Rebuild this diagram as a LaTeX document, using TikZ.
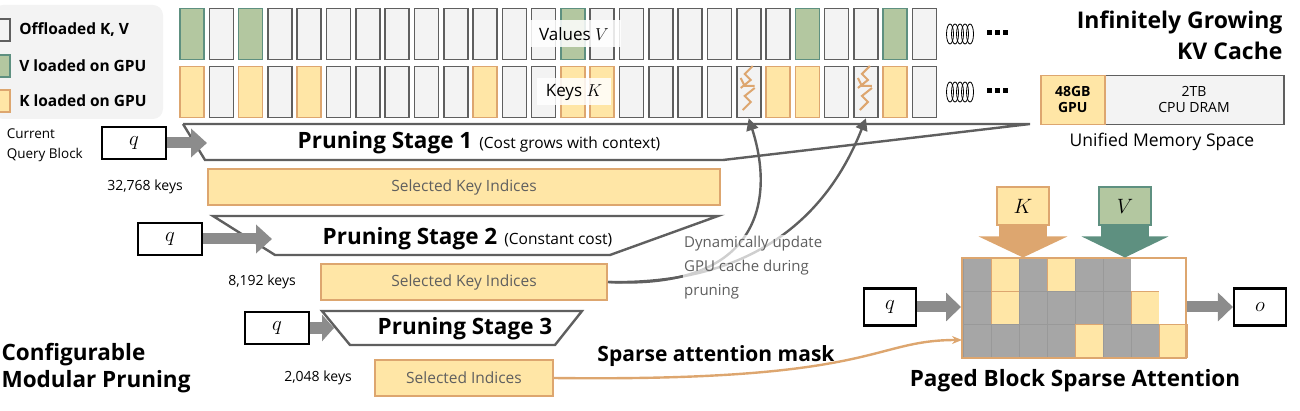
\documentclass[tikz,border=0pt]{standalone}
\usepackage{fontspec}
\setmainfont{Open Sans}
\usetikzlibrary{arrows.meta,positioning}

\definecolor{kfill}{HTML}{FFE6A6}
\definecolor{kdraw}{HTML}{DDA66F}
\definecolor{vfill}{HTML}{B3C7A0}
\definecolor{vdraw}{HTML}{5E9080}
\definecolor{cfill}{HTML}{F3F3F3}
\definecolor{cdraw}{HTML}{5F5F5F}
\definecolor{mgray}{HTML}{A6A6A6}

\tikzset{
  cell/.style={draw=cdraw,fill=cfill,line width=1.6pt,minimum width=24pt,minimum height=51pt,inner sep=0pt},
  kcell/.style={cell,draw=kdraw,fill=kfill},
  vcell/.style={cell,draw=vdraw,fill=vfill},
  qbox/.style={draw=black,line width=2.2pt,fill=white,minimum width=64pt,minimum height=32pt,font=\fontsize{22}{24}\selectfont},
  sel/.style={draw=kdraw,fill=kfill,line width=2pt,font=\fontsize{15.5}{17}\selectfont,text=cdraw},
  stage/.style={draw=cdraw,line width=2.4pt,fill=white,line join=miter},
  fat/.style={line width=11pt,draw=gray!90,-{Triangle[length=16pt,width=28pt]}},
  keys/.style={font=\fontsize{14}{16}\selectfont},
  head/.style={font=\bfseries\fontsize{22.5}{26}\selectfont},
  note/.style={font=\fontsize{15.5}{17}\selectfont,yshift=-1pt},
  legtext/.style={font=\bfseries\fontsize{15.5}{17}\selectfont},
  mcell/.style={draw=gray!80,fill=mgray,line width=1pt,minimum width=28pt,minimum height=33pt,inner sep=0pt},
}

\begin{document}
\begin{tikzpicture}[x=1pt,y=-1pt]
  \useasboundingbox (0,0) rectangle (1300,411);

  % legend
  \node[fill=cfill,rounded corners=10pt,minimum width=170pt,minimum height=114pt] (legend) at (78,62) {};
  \node[cell,minimum width=12pt,minimum height=22pt] (l1) at (4,30) {};
  \node[vcell,minimum width=12pt,minimum height=22pt] (l2) at (4,66) {};
  \node[kcell,minimum width=12pt,minimum height=22pt] (l3) at (4,101) {};
  \node[right=5pt of l1,legtext] {Offloaded K, V};
  \node[right=5pt of l2,legtext] {V loaded on GPU};
  \node[right=5pt of l3,legtext] {K loaded on GPU};

  % KV cache rows
  \foreach \i in {0,...,25} {
    \node[cell] (v\i) at (192+\i*29.3,34) {};
    \node[cell] (k\i) at (192+\i*29.3,92) {};
  }
  \foreach \i in {0,2,13,21,24} \node[vcell] at (v\i) {};
  \foreach \i in {0,2,4,10,13,14,20,21,24} \node[kcell] at (k\i) {};
  \foreach \i in {19,23} \draw[kdraw,line width=2pt]
    ([xshift=-6pt,yshift=-18pt]k\i.center) -- ++(8,-8) -- ++(-6,-6) -- ++(10,-8)
    ([xshift=-8pt,yshift=4pt]k\i.center) -- ++(10,-8) -- ++(-6,-6) -- ++(8,-8)
    ([xshift=-8pt,yshift=14pt]k\i.center) -- ++(4,8) -- ++(10,0);
  \node[fill=white,fill opacity=.85,text opacity=1,font=\fontsize{17}{19}\selectfont,minimum width=94pt,minimum height=27pt] (vlab) at (574,34) {Values $V$};
  \node[fill=white,fill opacity=.85,text opacity=1,font=\fontsize{17}{19}\selectfont,minimum width=74pt,minimum height=27pt] (klab) at (574,92) {Keys $K$};
  \foreach \y in {34,92} {
    \foreach \j in {0,...,4} \draw[line width=.8pt] (950+\j*5,\y) ellipse (3.5 and 10);
    \foreach \j in {0,1,2} \fill (987+\j*8,\y-3.5) rectangle ++(5,5);
  }

  % memory
  \node[head,anchor=east,font=\bfseries\fontsize{23}{26}\selectfont] (inf) at (1286,22) {Infinitely Growing};
  \node[head,anchor=east,font=\bfseries\fontsize{23}{26}\selectfont] (kvc) at (1286,51) {KV Cache};
  \node[draw=cdraw,fill=cfill,line width=1.6pt,minimum width=243pt,minimum height=49pt,anchor=west] (dram) at (1040,100) {};
  \node[draw=kdraw,fill=kfill,line width=1.6pt,minimum width=64pt,minimum height=49pt,anchor=west,font=\bfseries\fontsize{14}{16}\selectfont,align=center] (gpu) at (1040,100) {48GB\\GPU};
  \node[align=center,font=\fontsize{14}{16}\selectfont] at (1194,100) {2TB\\CPU DRAM};
  \node[font=\fontsize{17.5}{19}\selectfont] (ums) at (1162,142) {Unified Memory Space};

  % pruning stage 1
  \draw[stage] (183,124) -- (1030,124) (183,124) -- (205,160) -- (723,160) -- (1030,124);
  \node[head] (s1) at (385,143) {Pruning Stage 1};
  \node[right=0pt of s1,note] {(Cost grows with context)};
  \node[qbox] (q1) at (134,143) {$q$};
  \coordinate (s1in) at (207,143);
  \draw[fat] (q1) -- (s1in);
  \node[align=left,anchor=east,inner sep=1pt,font=\fontsize{13.5}{20}\selectfont] (cqb) at (84,145) {Current\\Query Block};
  \node[keys] (n1) at (145,187) {32,768 keys};
  \node[sel,minimum width=512pt,minimum height=36pt] (sk1) at (464,187) {Selected Key Indices};

  % pruning stage 2
  \draw[stage] (213,216) -- (718,216) -- (610,255) -- (275,255) -- cycle;
  \node[head] (s2) at (410,239) {Pruning Stage 2};
  \node[right=0pt of s2,note] {(Constant cost)};
  \node[qbox] (q2) at (170,239) {$q$};
  \coordinate (s2in) at (272,239);
  \draw[fat] (q2) -- (s2in);
  \node[keys] (n2) at (262,282) {8,192 keys};
  \node[sel,minimum width=286pt,minimum height=36pt] (sk2) at (464,282) {Selected Key Indices};

  % pruning stage 3
  \draw[stage] (322,311) -- (582,311) -- (555,345) -- (350,345) -- cycle;
  \node[head] (s3) at (465,329) {Pruning Stage 3};
  \node[qbox] (q3) at (277,328) {$q$};
  \coordinate (s3in) at (334,328);
  \draw[fat,-{Triangle[length=12pt,width=26pt]}] (q3) -- (s3in);
  \node[keys] (n3) at (318,378) {2,048 keys};
  \node[sel,minimum width=178pt,minimum height=36pt] (sk3) at (464,378) {Selected Indices};
  \node[align=left,anchor=west,font=\bfseries\fontsize{22.5}{27}\selectfont] (cmp) at (-2,368) {Configurable\\Modular Pruning};

  % dynamic update arrows
  \draw[cdraw,line width=2.4pt,-{Triangle[length=12pt,width=12pt]}] (sk2.east) .. controls (760,290) and (775,200) .. (k19.south);
  \draw[cdraw,line width=2.4pt,-{Triangle[length=12pt,width=12pt]}] (sk2.east) .. controls (760,285) and (830,210) .. (k23.south);
  \node[align=left,anchor=north west,text=cdraw,fill=white,fill opacity=.7,text opacity=1,inner sep=1pt,font=\fontsize{15}{24}\selectfont] (dyn) at (683,235) {Dynamically update\\GPU cache during\\pruning};

  % paged block sparse attention
  \foreach \r/\row in {0/{0,1,0,1,0,0,2,2},1/{0,1,0,0,0,0,1,2},2/{0,0,0,0,1,0,0,1}} {
    \foreach \t [count=\c from 0] in \row {
      \ifcase\t
        \node[mcell] (m\r\c) at (977+\c*28,275+\r*33) {};
      \or
        \node[mcell,draw=kdraw,fill=kfill] (m\r\c) at (977+\c*28,275+\r*33) {};
      \or
        \node[mcell,draw=none,fill=white] (m\r\c) at (977+\c*28,275+\r*33) {};
      \fi
    }
  }
  \node[draw=kdraw,line width=2pt,minimum width=224pt,minimum height=99pt,inner sep=0pt] (mat) at (1074,308) {};
  \node[draw=kdraw,fill=kfill,line width=2pt,minimum width=52pt,minimum height=38pt,font=\fontsize{22}{24}\selectfont] (kin) at (1023,206) {$K$};
  \node[draw=vdraw,fill=vfill,line width=2pt,minimum width=52pt,minimum height=38pt,font=\fontsize{22}{24}\selectfont] (vin) at (1125,206) {$V$};
  \draw[kdraw,line width=48pt,-{Triangle[length=21pt,width=88pt]}] (kin.south) -- (kin.south |- mat.north);
  \draw[vdraw,line width=48pt,-{Triangle[length=21pt,width=86pt]}] (vin.south) -- (vin.south |- mat.north);
  \node[qbox,minimum width=52pt,minimum height=37pt] (q4) at (890,307) {$q$};
  \node[qbox,minimum width=52pt,minimum height=37pt] (o) at (1260,307) {$o$};
  \draw[fat,-{Triangle[length=15pt,width=28pt]}] (q4) -- (mat.west |- q4);
  \draw[fat,-{Triangle[length=15pt,width=28pt]}] (mat.east |- o) -- (o);
  \node[head] (pbsa) at (1075,381) {Paged Block Sparse Attention};
  \node[head,font=\bfseries\fontsize{21}{24}\selectfont] (sam) at (716,356) {Sparse attention mask};
  \coordinate (matin) at (962,340);
  \draw[kdraw,line width=2.4pt,-{Stealth[length=10pt,width=8pt]}] (sk3.east) .. controls (880,382) and (870,340) .. (matin);
\end{tikzpicture}
\end{document}
